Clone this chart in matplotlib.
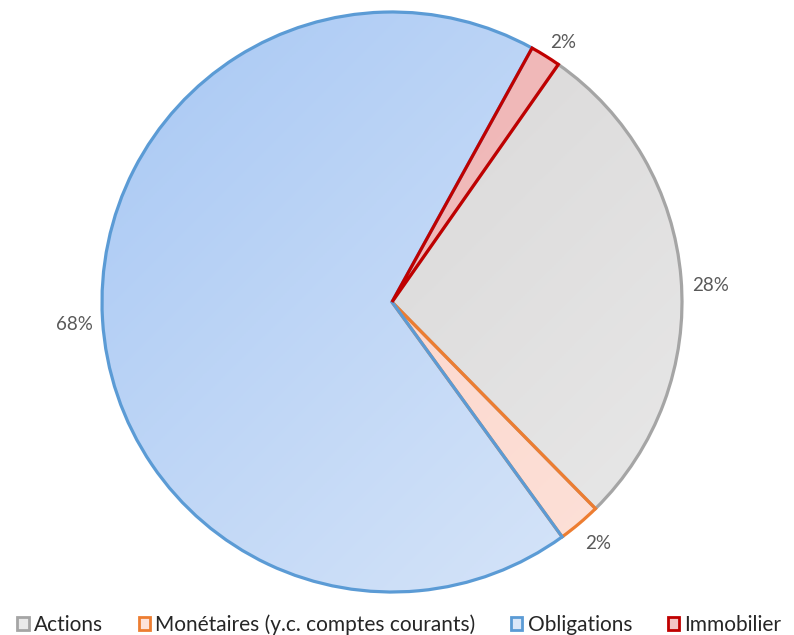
import matplotlib
matplotlib.use("Agg")
import matplotlib.pyplot as plt
import numpy as np
from matplotlib.colors import LinearSegmentedColormap

plt.rcParams["font.family"] = ["Lato", "DejaVu Sans"]

# data (shares of the portfolio, %)
categories = ["Actions", "Monétaires (y.c. comptes courants)", "Obligations", "Immobilier"]
values = [27.9, 2.4, 68.0, 1.7]

# gradient (dark, light) fill and edge colour per slice
fill_dark = ["#d4d2d2", "#fbcfc2", "#a8c8f4", "#eeb0b0"]
fill_light = ["#e9e9e9", "#fde2da", "#dae7f9", "#f3c4c4"]
edge_colors = ["#a5a5a5", "#ed7d31", "#5b9bd5", "#c00000"]

W, H = 794, 635
cx, cy, R = 392, H - 302, 290

fig = plt.figure(figsize=(W / 100, H / 100), dpi=100)
ax = fig.add_axes([0, 0, 1, 1])

wedges, texts, autotexts = ax.pie(
    values,
    center=(cx, cy),
    radius=R,
    startangle=55,
    counterclock=False,
    colors=fill_light,
    autopct="%.0f%%",
    pctdistance=1.1,
    wedgeprops=dict(linewidth=2.3, joinstyle="miter"),
    textprops=dict(color="#595959", fontsize=13.5),
)

# diagonal gradient over the pie (darker top-left), clipped to each wedge
xx, yy = np.meshgrid(np.linspace(0, 1, 300), np.linspace(0, 1, 300))
grad = (xx + yy) / 2
for i, (w, d, l, e) in enumerate(zip(wedges, fill_dark, fill_light, edge_colors)):
    w.set_edgecolor(e)
    w.set_facecolor("none")
    w.set_zorder(3 + i)
    cmap = LinearSegmentedColormap.from_list("g", [d, l])
    im = ax.imshow(grad, cmap=cmap, extent=[cx - R, cx + R, cy - R, cy + R],
                   origin="upper", zorder=2, interpolation="bilinear")
    im.set_clip_path(w)

# nudge labels slightly toward where the original puts them
offsets = [(1, -10), (0, 2), (1, -3), (2, -11)]
for t, (dx, dy) in zip(autotexts, offsets):
    x, y = t.get_position()
    t.set_position((x + dx, y + dy))

ax.set_xlim(0, W)
ax.set_ylim(0, H)
ax.set_aspect("equal")
ax.axis("off")

handles = []
for d, l, e in zip(fill_dark, fill_light, edge_colors):
    handles.append(plt.Rectangle((0, 0), 1, 1, facecolor=l, edgecolor=e, linewidth=2))
fig.legend(handles, categories, loc="center", bbox_to_anchor=(0.503, 0.016),
           ncol=4, frameon=False, fontsize=15, handlelength=0.55, handleheight=0.55,
           handletextpad=0.25, columnspacing=1.7, labelcolor="#262626",
           borderpad=0.0)

fig.savefig("out.png", dpi=100)
